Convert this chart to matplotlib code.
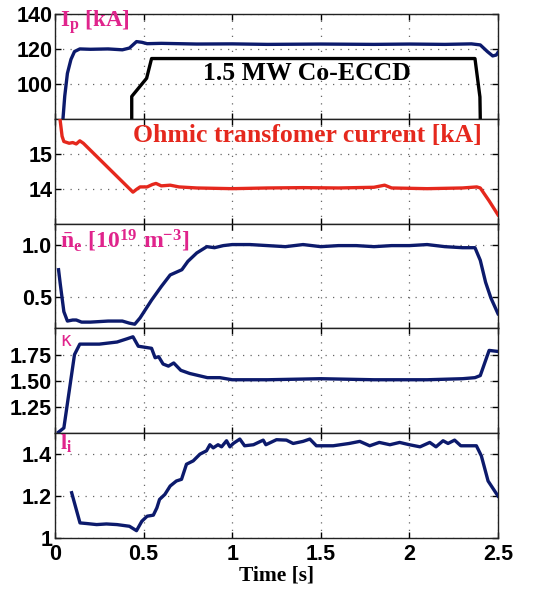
import matplotlib
matplotlib.use('Agg')
import matplotlib.pyplot as plt

plt.rcParams['mathtext.fontset'] = 'custom'
plt.rcParams['mathtext.rm'] = 'Liberation Serif:bold'
plt.rcParams['mathtext.it'] = 'Liberation Serif:bold'
plt.rcParams['mathtext.bf'] = 'Liberation Serif:bold'

# ---------------- data ----------------
ip_t = [0.045, 0.055, 0.07, 0.09, 0.11, 0.14, 0.2, 0.3, 0.38, 0.42, 0.46, 0.49, 0.52, 0.6, 0.8,
        1.0, 1.2, 1.5, 1.8, 2.0, 2.2, 2.35, 2.40, 2.44, 2.47, 2.49, 2.5]
ip_v = [80, 93, 106, 114, 118.5, 120, 119.8, 120, 119.5, 120.5, 124.2, 123.8, 123.0, 123.2, 122.8,
        122.9, 122.6, 122.8, 122.6, 122.8, 122.6, 122.9, 122.3, 118.5, 116.0, 116.5, 118.0]

eccd_t = [0.433, 0.433, 0.517, 0.545, 2.37, 2.398, 2.40]
eccd_v = [80, 92.8, 103.2, 114.5, 114.5, 92.5, 80]

oh_t = [0.028, 0.04, 0.05, 0.08, 0.10, 0.12, 0.14, 0.16, 0.44, 0.46, 0.48, 0.52, 0.55, 0.57,
        0.60, 0.65, 0.70, 0.80, 1.0, 1.2, 1.4, 1.6, 1.8, 1.86, 1.9, 2.1, 2.3, 2.38, 2.40, 2.45, 2.5]
oh_v = [16.0, 15.5, 15.35, 15.3, 15.32, 15.28, 15.37, 15.3, 13.9, 13.98, 14.05, 14.05, 14.12, 14.15,
        14.08, 14.1, 14.05, 14.02, 14.0, 14.02, 14.03, 14.02, 14.04, 14.1, 14.02, 14.0, 14.02, 14.05, 14.02, 13.65, 13.25]

ne_t = [0.02, 0.03, 0.05, 0.07, 0.10, 0.12, 0.15, 0.20, 0.30, 0.38, 0.42, 0.45, 0.48, 0.545, 0.60,
        0.65, 0.716, 0.75, 0.80, 0.857, 0.90, 0.95, 1.0, 1.1, 1.2, 1.3, 1.4, 1.5, 1.6, 1.7, 1.8,
        1.9, 2.0, 2.1, 2.2, 2.3, 2.37, 2.40, 2.43, 2.46, 2.5]
ne_v = [0.76, 0.62, 0.36, 0.27, 0.28, 0.28, 0.26, 0.26, 0.27, 0.27, 0.25, 0.24, 0.30, 0.47, 0.60,
        0.71, 0.76, 0.84, 0.92, 0.98, 0.97, 0.99, 1.0, 1.0, 0.99, 0.98, 1.0, 0.98, 0.99, 0.99, 0.98,
        0.99, 0.99, 1.0, 0.98, 0.97, 0.97, 0.85, 0.64, 0.49, 0.34]

k_t = [0.02, 0.05, 0.11, 0.14, 0.25, 0.35, 0.405, 0.44, 0.47, 0.545, 0.565, 0.585, 0.61, 0.64,
       0.67, 0.71, 0.76, 0.86, 0.93, 1.0, 1.2, 1.5, 1.8, 2.1, 2.3, 2.37, 2.40, 2.45, 2.5]
k_v = [1.01, 1.05, 1.75, 1.85, 1.85, 1.87, 1.90, 1.92, 1.83, 1.81, 1.72, 1.73, 1.66, 1.64,
       1.67, 1.60, 1.57, 1.53, 1.53, 1.51, 1.51, 1.52, 1.51, 1.51, 1.52, 1.53, 1.55, 1.79, 1.78]

li_t = [0.094, 0.141, 0.179, 0.235, 0.29, 0.35, 0.42, 0.46, 0.49, 0.52, 0.555, 0.575, 0.59, 0.62,
        0.65, 0.685, 0.714, 0.742, 0.78, 0.818, 0.855, 0.874, 0.893, 0.92, 0.94, 0.968, 0.987, 1.006,
        1.043, 1.07, 1.12, 1.175, 1.19, 1.25, 1.306, 1.344, 1.40, 1.438, 1.475, 1.57, 1.66, 1.72,
        1.776, 1.83, 1.89, 1.945, 2.0, 2.06, 2.115, 2.15, 2.19, 2.218, 2.255, 2.29, 2.378, 2.406,
        2.444, 2.5]
li_v = [1.216, 1.072, 1.069, 1.064, 1.067, 1.064, 1.056, 1.035, 1.08, 1.104, 1.109, 1.144, 1.184, 1.208,
        1.248, 1.272, 1.28, 1.352, 1.368, 1.40, 1.416, 1.445, 1.43, 1.445, 1.435, 1.464, 1.435, 1.451,
        1.472, 1.44, 1.445, 1.467, 1.445, 1.469, 1.467, 1.451, 1.461, 1.472, 1.44, 1.44, 1.451, 1.461,
        1.44, 1.456, 1.445, 1.456, 1.445, 1.435, 1.456, 1.435, 1.464, 1.451, 1.467, 1.44, 1.44, 1.392,
        1.272, 1.2]

x_ticks = [0, 0.5, 1, 1.5, 2, 2.5]
x_ticklabels = ['0', '0.5', '1', '1.5', '2', '2.5']

panels_ylim = [(80, 140), (13, 16), (0.2, 1.2), (1.0, 2.0), (1.0, 1.5)]
panels_yticks = [[100, 120, 140], [14, 15], [0.5, 1.0], [1.25, 1.5, 1.75], [1.0, 1.2, 1.4]]
panels_yticklabels = [['100', '120', '140'], ['14', '15'], ['0.5', '1.0'],
                      ['1.25', '1.50', '1.75'], ['1', '1.2', '1.4']]

NAVY = '#0c1a6c'
RED = '#e5281d'
MAG = '#e0248c'

tickfont = dict(family='Liberation Sans', weight='bold', size=15.5)

fig = plt.figure(figsize=(5.39, 5.90), dpi=100)
L = 55 / 539
W = 443 / 539
H = 104.8
tops = [14, 14 + H, 14 + 2 * H, 14 + 3 * H, 14 + 4 * H]
axes = []
for i, top in enumerate(tops):
    b = 1 - (top + H) / 590
    ax = fig.add_axes([L, b, W, H / 590])
    ax.set_xlim(0, 2.5)
    ax.set_ylim(*panels_ylim[i])
    ax.set_xticks(x_ticks)
    ax.set_yticks(panels_yticks[i])
    ax.set_yticklabels(panels_yticklabels[i], fontdict=tickfont)
    if i == 4:
        ax.set_xticklabels(x_ticklabels, fontdict=tickfont)
    else:
        ax.set_xticklabels([])
    ax.tick_params(axis='y', direction='in', right=True, length=4, width=1, pad=2)
    ax.tick_params(axis='x', direction='in', top=True, length=4, width=1, pad=4)
    ax.grid(True, linestyle=(0, (1, 5)), color='#666666', linewidth=0.9)
    for s in ax.spines.values():
        s.set_linewidth(1.0)
        s.set_color('#222222')
    axes.append(ax)

ax1, ax2, ax3, ax4, ax5 = axes
LW = 2.4

ax1.plot(ip_t, ip_v, color=NAVY, lw=LW, zorder=3)
ax1.plot(eccd_t, eccd_v, color='black', lw=LW, zorder=3)
ax1.text(0.011, 0.88, r'$\mathrm{I_p\ [kA]}$', transform=ax1.transAxes, color=MAG,
         fontsize=16.5, va='baseline', ha='left')
ax1.text(0.569, 0.37, '1.5 MW Co-ECCD', transform=ax1.transAxes, color='black',
         family='Liberation Serif', weight='bold', fontsize=18.5, ha='center', va='baseline')

ax2.plot(oh_t, oh_v, color=RED, lw=LW, zorder=3)
ax2.text(0.569, 0.78, 'Ohmic transfomer current [kA]', transform=ax2.transAxes, color=RED,
         family='Liberation Serif', weight='bold', fontsize=18.5, ha='center', va='baseline')

ax3.plot(ne_t, ne_v, color=NAVY, lw=LW, zorder=3)
ax3.text(0.011, 0.77, r'$\mathrm{\bar{n}_e\ [10^{19}\ m^{-3}]}$', transform=ax3.transAxes,
         color=MAG, fontsize=17, va='baseline', ha='left')

ax4.plot(k_t, k_v, color=NAVY, lw=LW, zorder=3)
ax4.text(0.012, 0.83, 'κ', transform=ax4.transAxes, color=MAG, family='DejaVu Sans',
         fontsize=13.5, va='baseline', ha='left')

ax5.plot(li_t, li_v, color=NAVY, lw=LW, zorder=3)
ax5.text(0.012, 0.85, r'$\mathrm{l_i}$', transform=ax5.transAxes, color=MAG,
         fontsize=16, va='baseline', ha='left')
ax5.set_xlabel('Time [s]', family='Liberation Serif', weight='bold', fontsize=15.5, labelpad=1)

fig.savefig('out.png', dpi=100)
